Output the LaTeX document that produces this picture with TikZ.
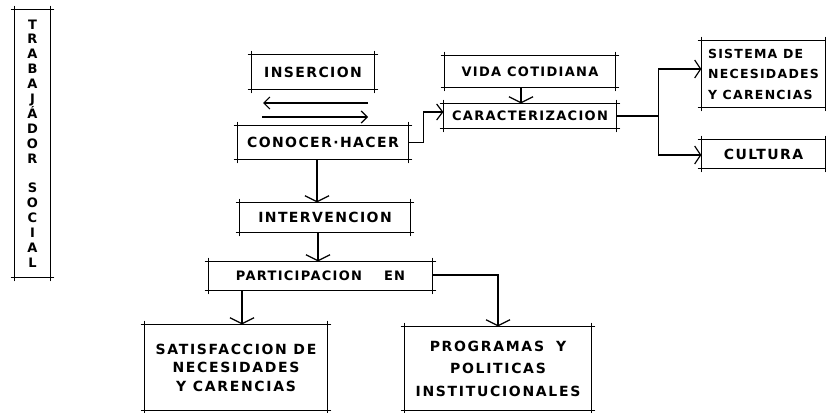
\documentclass[tikz,border=0pt]{standalone}
\usepackage{fontspec}
\setmainfont{DejaVu Sans}
\newfontfamily\lbl[LetterSpace=10]{DejaVu Sans}
\newfontfamily\lblw[LetterSpace=12]{DejaVu Sans}
\usetikzlibrary{arrows.meta,calc}
\begin{document}
\begin{tikzpicture}[x=1pt,y=-1pt,line width=1.2pt,
  ln/.style={draw,line width=1.2pt,line cap=round},
  bx/.style={inner sep=0pt,align=center,font=\lbl\bfseries\fontsize{#1}{20}\selectfont,
    append after command={
      ([xshift=-3pt]\tikzlastnode.north west) edge[ln] ([xshift=3pt]\tikzlastnode.north east)
      ([xshift=-3pt]\tikzlastnode.south west) edge[ln] ([xshift=3pt]\tikzlastnode.south east)
      ([yshift=3pt]\tikzlastnode.north west) edge[ln] ([yshift=-3pt]\tikzlastnode.south west)
      ([yshift=3pt]\tikzlastnode.north east) edge[ln] ([yshift=-3pt]\tikzlastnode.south east)
    }},
  bx/.default=13,
  arr/.style={-{Straight Barb[width=#1,length=6pt,line width=1.2pt]}},
  arr/.default=24pt]
\useasboundingbox (0,0) rectangle (826,412);

\node[bx,minimum width=35,minimum height=267,font=\bfseries\fontsize{13}{14.9}\selectfont] (ts) at (32.5,143.5)
  {T\\R\\A\\B\\A\\J\\Á\\D\\O\\R\\[14.9pt]S\\O\\C\\I\\A\\L};

\node[bx=14,minimum width=122,minimum height=34] (ins) at (313,72) {INSERCION};
\node[bx=14,minimum width=170,minimum height=33] (con) at (323,142.5) {CONOCER·HACER};
\node[bx,minimum width=170,minimum height=31] (vida) at (530,71.5) {VIDA COTIDIANA};
\node[bx,minimum width=172,minimum height=24] (car) at (530,116) {CARACTERIZACION};
\node[bx,minimum width=123,minimum height=66,align=left,font=\lbl\bfseries\fontsize{12.5}{20.5}\selectfont] (sis) at (763.5,74) {SISTEMA DE\\NECESIDADES\\Y CARENCIAS};
\node[bx=14,minimum width=123,minimum height=28] (cul) at (763.5,154) {CULTURA};
\node[bx=14,minimum width=170,minimum height=29] (int) at (325,217.5) {INTERVENCION};
\node[bx,minimum width=223,minimum height=28] (par) at (320.5,276) {PARTICIPACION\hspace{22pt}EN};
\node[bx,minimum width=182,minimum height=85,font=\lblw\bfseries\fontsize{14}{18.5}\selectfont] (sat) at (236,367.5) {SATISFACCION DE\\NECESIDADES\\Y CARENCIAS};
\node[bx,minimum width=186,minimum height=83,font=\lblw\bfseries\fontsize{14}{22.5}\selectfont] (prog) at (498,368.5) {PROGRAMAS\hspace{12pt}Y\\POLITICAS\\INSTITUCIONALES};

% arrows between INSERCION and CONOCER-HACER
\coordinate (a1) at (368,103);
\coordinate (a2) at (263,103);
\coordinate (b1) at (262,117);
\coordinate (b2) at (368,117);
\draw[arr=12pt] (a1) -- (a2);
\draw[arr=12pt] (b1) -- (b2);

\draw[arr=16pt] (con.east) -- ++(15,0) |- ($(car.west)+(0,-4)$);
\draw[arr] ($(vida.south)+(-9,0)$) -- ($(car.north)+(-9,0)$);
\coordinate (j) at ($(car.east)+(42,0)$);
\draw (car.east) -- (j);
\draw[arr=18pt] (j) |- ($(sis.west)+(0,-5)$);
\draw[arr=18pt] (j) |- ($(cul.west)+(0,1)$);

\draw[arr] ($(con.south)+(-6,0)$) -- ($(int.north)+(-8,0)$);
\draw[arr] ($(int.south)+(-7,0)$) -- ($(par.north)+(-2.5,0)$);
\draw[arr] ($(par.south)+(-78.5,0)$) -- ($(sat.north)+(6,0)$);
\draw[arr] ($(par.east)+(0,-1)$) -| (prog.north);
\end{tikzpicture}
\end{document}
